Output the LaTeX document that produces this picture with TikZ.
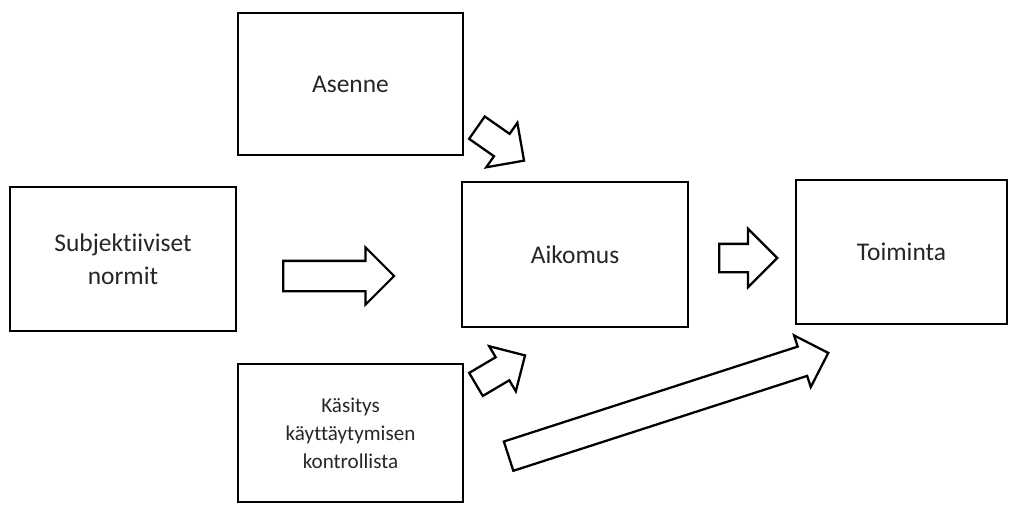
\documentclass[tikz,border=0pt]{standalone}
\usepackage{fontspec}
\setmainfont{Carlito}[Ligatures=NoCommon]
\usetikzlibrary{shapes.arrows}

\tikzset{
  box/.style={draw, line width=1.6pt, minimum width=4.5cm, minimum height=2.86cm, align=center, inner sep=0pt, text=black!85, font=\fontsize{14.5}{18.5}\selectfont},
  blockarrow/.style={draw, single arrow, line width=1.3pt, inner xsep=0pt, single arrow head indent=0pt, anchor=tail},
}

\begin{document}
\begin{tikzpicture}[x=0.02cm, y=-0.02cm]
\useasboundingbox (0,0) rectangle (1013,504);

\node (asenne) at (350.5,84) [box, minimum height=2.84cm] {Asenne};
\node (subj) at (123,259) [box, minimum width=4.52cm, minimum height=2.88cm] {Subjektiiviset\\normit};
\node (aikomus) at (575,254.5) [box, minimum width=4.52cm, minimum height=2.9cm] {Aikomus};
\node (toiminta) at (901.5,252) [box, minimum width=4.22cm, minimum height=2.88cm] {Toiminta};
\node (kasitys) at (350.5,433) [box, minimum height=2.76cm, font=\fontsize{12}{16}\selectfont] {Käsitys\\käyttäytymisen\\kontrollista};

\node (a1) at (476,127) [blockarrow, rotate=-35, minimum height=1.15cm, inner ysep=0.25cm, single arrow head extend=0.27cm] {};
\node (a2) at (475,385) [blockarrow, rotate=30.6, minimum height=1.14cm, inner ysep=0.245cm, single arrow head extend=0.256cm] {};
\node (a3) at (282,276) [blockarrow, minimum height=2.22cm, inner ysep=0.28cm, single arrow head extend=0.27cm] {};
\node (a4) at (718,258) [blockarrow, minimum height=1.16cm, inner ysep=0.26cm, single arrow head extend=0.3cm] {};
\node (a5) at (507.5,456.5) [blockarrow, rotate=17.9, minimum height=6.72cm, inner ysep=0.285cm, single arrow head extend=0.235cm] {};
\end{tikzpicture}
\end{document}
